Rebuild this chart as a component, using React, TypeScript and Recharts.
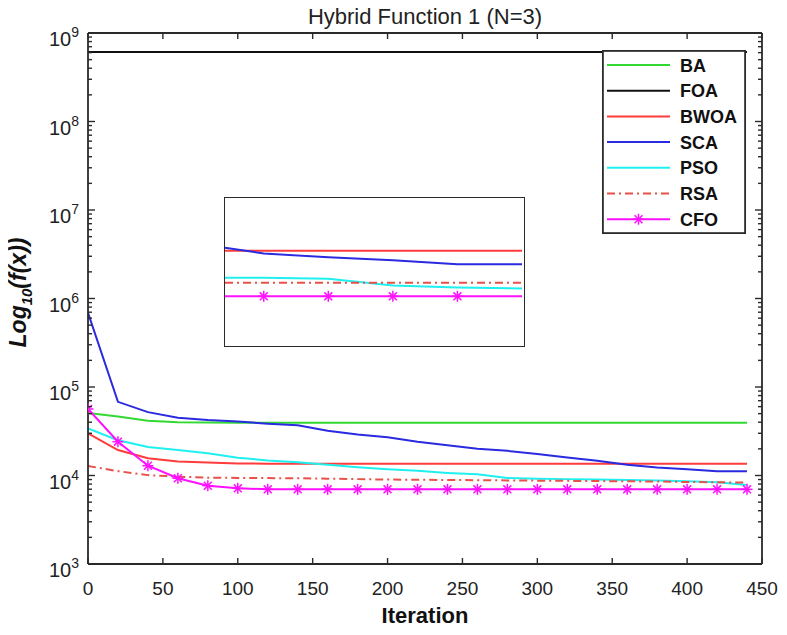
import React from 'react'
import { LineChart, Line, XAxis, YAxis, Legend } from 'recharts'

// iterations sampled every 20 steps
const iterations = [0, 20, 40, 60, 80, 100, 120, 140, 160, 180, 200, 220, 240, 260, 280, 300, 320, 340, 360, 380, 400, 420, 440]

const baValues = [51000, 46500, 41500, 40000, 39700, 39500, 39500, 39500, 39500, 39500, 39500, 39500, 39500, 39500, 39500, 39500, 39500, 39500, 39500, 39500, 39500, 39500, 39500]
const foaValues = [610000000, 610000000, 610000000, 610000000, 610000000, 610000000, 610000000, 610000000, 610000000, 610000000, 610000000, 610000000, 610000000, 610000000, 610000000, 610000000, 610000000, 610000000, 610000000, 610000000, 610000000, 610000000, 610000000]
const bwoaValues = [30000, 19400, 15700, 14400, 14000, 13700, 13600, 13600, 13600, 13600, 13600, 13600, 13600, 13600, 13600, 13600, 13600, 13600, 13600, 13600, 13600, 13600, 13600]
const scaValues = [690000, 68000, 52000, 45000, 42400, 40700, 38500, 37000, 32000, 29000, 27000, 24000, 22000, 20000, 19000, 17500, 16000, 14700, 13200, 12300, 11800, 11200, 11200]
const psoValues = [34000, 25000, 21000, 19400, 17800, 15900, 14800, 14100, 13200, 12400, 11800, 11300, 10700, 10300, 9400, 9200, 9100, 9000, 8900, 8800, 8600, 8400, 7800]
const rsaValues = [12800, 11200, 10100, 9700, 9450, 9400, 9350, 9300, 9200, 9100, 9000, 8950, 8900, 8850, 8800, 8750, 8700, 8650, 8600, 8550, 8450, 8400, 8300]
const cfoValues = [56400, 24100, 12900, 9300, 7670, 7160, 6980, 6980, 6980, 6980, 6980, 6980, 6980, 6980, 6980, 6980, 6980, 6980, 6980, 6980, 6980, 6980, 6980]

// zoomed inset (last iterations, linear scale)
const insetIterations = [348, 360, 380, 400, 420, 440]
const insetBwoa = [13400, 13400, 13400, 13400, 13400, 13400]
const insetSca = [13860, 13020, 12460, 12040, 11480, 11480]
const insetPso = [9520, 9520, 9380, 8400, 8120, 7980]
const insetRsa = [8820, 8820, 8820, 8820, 8820, 8820]
const insetCfo = [6860, 6860, 6860, 6860, 6860, 6860]

const xTicks = [0, 50, 100, 150, 200, 250, 300, 350, 400, 450]
const yMajorTicks = [1e3, 1e4, 1e5, 1e6, 1e7, 1e8, 1e9]
const yMinorFactors = [2, 3, 4, 5, 6, 7, 8, 9]

const series = [
  { key: 'BA', name: 'BA', color: '#33d933', dash: undefined, marker: false },
  { key: 'FOA', name: 'FOA', color: '#111111', dash: undefined, marker: false },
  { key: 'BWOA', name: 'BWOA', color: '#ff3b3b', dash: undefined, marker: false },
  { key: 'SCA', name: 'SCA', color: '#2a2ae0', dash: undefined, marker: false },
  { key: 'PSO', name: 'PSO', color: '#1ef0f0', dash: undefined, marker: false },
  { key: 'RSA', name: 'RSA', color: '#e8504a', dash: '8 4 2 4', marker: false },
  { key: 'CFO', name: 'CFO', color: '#ff10ff', dash: undefined, marker: true },
]

const data = iterations.map((it, i) => ({
  it,
  BA: baValues[i],
  FOA: foaValues[i],
  BWOA: bwoaValues[i],
  SCA: scaValues[i],
  PSO: psoValues[i],
  RSA: rsaValues[i],
  CFO: cfoValues[i],
}))

const insetData = insetIterations.map((it, i) => ({
  it,
  BWOA: insetBwoa[i],
  SCA: insetSca[i],
  PSO: insetPso[i],
  RSA: insetRsa[i],
  CFO: insetCfo[i],
}))

const yTicks = [
  ...yMajorTicks,
  ...yMajorTicks.slice(0, -1).flatMap((m) => yMinorFactors.map((f) => m * f)),
].sort((a, b) => a - b)

const FONT = 'Arial, "Liberation Sans", Helvetica, sans-serif'
const AXIS = '#2a2a2a'

const isMajor = (v: number) => {
  const e = Math.log10(v)
  return Math.abs(e - Math.round(e)) < 1e-6
}

const LeftTick = (props: any) => {
  const { x, y, payload } = props
  const major = isMajor(payload.value)
  return (
    <g>
      <line x1={x} x2={x + (major ? 7 : 4)} y1={y} y2={y} stroke={AXIS} strokeWidth={1.4} />
      {major && (
        <text x={x - 9} y={y + 13} textAnchor="end" fontSize={20} fill="#222" fontFamily={FONT}>
          10<tspan dy={-9} fontSize={14}>{Math.round(Math.log10(payload.value))}</tspan>
        </text>
      )}
    </g>
  )
}

const RightTick = (props: any) => {
  const { x, y, payload } = props
  const major = isMajor(payload.value)
  return <line x1={x} x2={x - (major ? 7 : 4)} y1={y} y2={y} stroke={AXIS} strokeWidth={1.4} />
}

const BottomTick = (props: any) => {
  const { x, y, payload } = props
  return (
    <g>
      <line x1={x} x2={x} y1={y} y2={y - 6} stroke={AXIS} strokeWidth={1.4} />
      <text x={x} y={y + 31} textAnchor="middle" fontSize={19} fill="#222" fontFamily={FONT}>
        {payload.value}
      </text>
    </g>
  )
}

const TopTick = (props: any) => {
  const { x, y } = props
  return <line x1={x} x2={x} y1={y} y2={y + 6} stroke={AXIS} strokeWidth={1.4} />
}

const Asterisk = ({ cx, cy, color, r }: { cx: number; cy: number; color: string; r: number }) => {
  const d = r * 0.72
  return (
    <g stroke={color} strokeWidth={1.5}>
      <line x1={cx - r} x2={cx + r} y1={cy} y2={cy} />
      <line x1={cx} x2={cx} y1={cy - r} y2={cy + r} />
      <line x1={cx - d} x2={cx + d} y1={cy - d} y2={cy + d} />
      <line x1={cx - d} x2={cx + d} y1={cy + d} y2={cy - d} />
    </g>
  )
}

const renderLegend = () => (
  <svg width={144} height={184} style={{ display: 'block' }}>
    <rect x={0.9} y={0.9} width={142.2} height={182.2} fill="#fff" stroke={AXIS} strokeWidth={1.8} />
    {series.map((s, i) => {
      const cy = 15 + i * 25.7
      return (
        <g key={s.key}>
          <line x1={5} x2={68} y1={cy} y2={cy} stroke={s.color} strokeWidth={2} strokeDasharray={s.dash} />
          {s.marker && <Asterisk cx={36.5} cy={cy} color={s.color} r={5.5} />}
          <text x={78} y={cy + 6.5} fontSize={18} fontWeight="bold" fill="#111" fontFamily={FONT}>
            {s.name}
          </text>
        </g>
      )
    })}
  </svg>
)

const App = () => {
  return (
    <div style={{ position: 'relative', width: 787, height: 635, margin: -8 }}>
      <LineChart width={787} height={635} data={data} margin={{ top: 32, right: 24, bottom: 0, left: 0 }}>
        <XAxis
          xAxisId="b"
          dataKey="it"
          type="number"
          domain={[0, 450]}
          ticks={xTicks}
          interval={0}
          allowDataOverflow
          height={71}
          tickSize={0}
          tickMargin={0}
          tickLine={false}
          axisLine={{ stroke: AXIS, strokeWidth: 1.8 }}
          tick={<BottomTick />}
          label={{
            content: (p: any) => (
              <text
                x={p.viewBox.x + p.viewBox.width / 2}
                y={p.viewBox.y + 59}
                textAnchor="middle"
                fontSize={22}
                fontWeight="bold"
                fill="#111"
                fontFamily={FONT}
              >
                Iteration
              </text>
            ),
          }}
        />
        <XAxis
          xAxisId="t"
          orientation="top"
          dataKey="it"
          type="number"
          domain={[0, 450]}
          ticks={xTicks}
          interval={0}
          allowDataOverflow
          height={1}
          tickSize={0}
          tickMargin={0}
          tickLine={false}
          axisLine={{ stroke: AXIS, strokeWidth: 1.8 }}
          tick={<TopTick />}
          label={{
            content: (p: any) => (
              <text
                x={p.viewBox.x + p.viewBox.width / 2}
                y={24}
                textAnchor="middle"
                fontSize={22}
                fill="#222"
                fontFamily={FONT}
              >
                Hybrid Function 1 (N=3)
              </text>
            ),
          }}
        />
        <YAxis
          yAxisId="l"
          type="number"
          scale="log"
          domain={[1e3, 1e9]}
          ticks={yTicks}
          interval={0}
          allowDataOverflow
          width={88}
          tickSize={0}
          tickMargin={0}
          tickLine={false}
          axisLine={{ stroke: AXIS, strokeWidth: 1.8 }}
          tick={<LeftTick />}
          label={{
            content: (p: any) => {
              const cx = 26
              const cy = p.viewBox.y + p.viewBox.height / 2 - 6
              return (
                <text
                  x={cx}
                  y={cy}
                  transform={`rotate(-90 ${cx} ${cy})`}
                  textAnchor="middle"
                  fontSize={23}
                  fontWeight="bold"
                  fontStyle="italic"
                  fill="#111"
                  fontFamily={FONT}
                >
                  Log<tspan dy={6} fontSize={15}>10</tspan>
                  <tspan dy={-6}>(f(x))</tspan>
                </text>
              )
            },
          }}
        />
        <YAxis
          yAxisId="r"
          orientation="right"
          type="number"
          scale="log"
          domain={[1e3, 1e9]}
          ticks={yTicks}
          interval={0}
          allowDataOverflow
          width={1}
          tickSize={0}
          tickMargin={0}
          tickLine={false}
          axisLine={{ stroke: AXIS, strokeWidth: 1.8 }}
          tick={<RightTick />}
        />
        <Legend
          layout="vertical"
          align="center"
          verticalAlign="middle"
          content={renderLegend}
          wrapperStyle={{ left: 602, top: 50, width: 144, height: 184 }}
        />
        {series.map((s) => (
          <Line
            key={s.key}
            xAxisId="b"
            yAxisId="l"
            type="linear"
            dataKey={s.key}
            name={s.name}
            stroke={s.color}
            strokeWidth={2}
            strokeDasharray={s.dash}
            isAnimationActive={false}
            dot={
              s.marker
                ? (p: any) => <Asterisk key={`m-${p.index}`} cx={p.cx} cy={p.cy} color={s.color} r={5.5} />
                : false
            }
            activeDot={false}
          />
        ))}
      </LineChart>

      <div
        style={{
          position: 'absolute',
          left: 224,
          top: 197,
          width: 301,
          height: 150,
          border: `1.8px solid ${AXIS}`,
          boxSizing: 'border-box',
          background: '#fff',
        }}
      >
        <LineChart width={297} height={146} data={insetData} margin={{ top: 0, right: 0, bottom: 0, left: 0 }}>
          <XAxis dataKey="it" type="number" domain={[348, 440]} hide allowDataOverflow />
          <YAxis type="number" domain={[0, 21000]} hide allowDataOverflow />
          {series
            .filter((s) => s.key !== 'BA' && s.key !== 'FOA')
            .map((s) => (
              <Line
                key={s.key}
                type="linear"
                dataKey={s.key}
                stroke={s.color}
                strokeWidth={2}
                strokeDasharray={s.dash}
                isAnimationActive={false}
                dot={
                  s.marker
                    ? (p: any) =>
                        p.index > 0 && p.index < insetData.length - 1 ? (
                          <Asterisk key={`im-${p.index}`} cx={p.cx} cy={p.cy} color={s.color} r={5.5} />
                        ) : (
                          <g key={`im-${p.index}`} />
                        )
                    : false
                }
                activeDot={false}
              />
            ))}
        </LineChart>
      </div>
    </div>
  )
}

export default App
